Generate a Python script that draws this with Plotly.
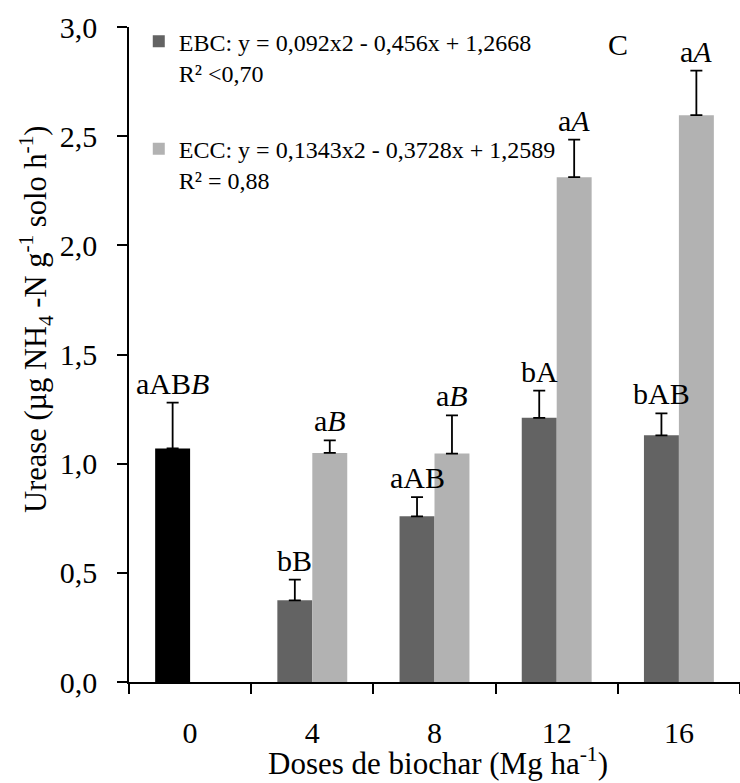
import plotly.graph_objects as go

# ---------------- data ----------------
categories = ["0", "4", "8", "12", "16"]

control_x = ["0"]
control_values = [1.07]
control_err = [0.21]

ebc_x = ["4", "8", "12", "16"]
ebc_values = [0.374, 0.759, 1.21, 1.13]
ebc_err = [0.095, 0.088, 0.125, 0.10]

ecc_x = ["4", "8", "12", "16"]
ecc_values = [1.049, 1.046, 2.312, 2.596]
ecc_err = [0.058, 0.175, 0.172, 0.204]

control_labels = ["aAB<i>B</i>"]
ebc_labels = ["bB", "aAB", "bA", "bAB"]
ecc_labels = ["a<i>B</i>", "a<i>B</i>", "a<i>A</i>", "a<i>A</i>"]

ebc_name = "EBC: y = 0,092x2 - 0,456x + 1,2668<br>R² <0,70"
ecc_name = "ECC: y = 0,1343x2 - 0,3728x + 1,2589<br>R² = 0,88"

x_title = "Doses de biochar (Mg ha<sup>-1</sup>)"
y_title = "Urease (µg NH<sub>4</sub> -N g<sup>-1</sup> solo h<sup>-1</sup>)"

# ---------------- style ----------------
FONT = "Liberation Serif, Times New Roman, serif"
BAR_W = 0.286
C_CTRL = "#000000"
C_EBC = "#636363"
C_ECC = "#b2b2b2"


def err(arr):
    return dict(type="data", array=arr, arrayminus=[0] * len(arr), symmetric=False,
                color="black", thickness=1.8, width=6)


fig = go.Figure()
fig.add_bar(x=control_x, y=control_values, width=BAR_W, offset=-BAR_W,
            marker=dict(color=C_CTRL, line=dict(width=0)), error_y=err(control_err),
            showlegend=False, name="Controle")
fig.add_bar(x=ebc_x, y=ebc_values, width=BAR_W, offset=-BAR_W,
            marker=dict(color=C_EBC, line=dict(width=0)), error_y=err(ebc_err),
            name=ebc_name, legendgroup="ebc")
fig.add_bar(x=ecc_x, y=ecc_values, width=BAR_W, offset=0,
            marker=dict(color=C_ECC, line=dict(width=0)), error_y=err(ecc_err),
            name=ecc_name, legendgroup="ecc")


# letter annotations above the error bars (x given as category index)
def add_labels(xs, vals, errs, labels, shift):
    for xv, v, e, lab in zip(xs, vals, errs, labels):
        fig.add_annotation(x=categories.index(xv), y=v + e, text=lab, showarrow=False,
                           xref="x", yref="y", xshift=shift, yshift=1, yanchor="bottom",
                           font=dict(family=FONT, size=30, color="black"))


add_labels(control_x, control_values, control_err, control_labels, -17.5)
add_labels(ebc_x, ebc_values, ebc_err, ebc_labels, -17.5)
add_labels(ecc_x, ecc_values, ecc_err, ecc_labels, 17.5)

fig.add_annotation(x=0.80, y=0.973, xref="paper", yref="paper", text="C", showarrow=False,
                   xanchor="center", yanchor="middle",
                   font=dict(family=FONT, size=30, color="black"))

# axis titles
fig.add_annotation(x=-0.152, y=0.553, xref="paper", yref="paper", text=y_title,
                   textangle=-90, showarrow=False, xanchor="center", yanchor="middle",
                   font=dict(family=FONT, size=30.5, color="black"))
fig.add_annotation(x=0.505, y=-0.122, xref="paper", yref="paper", text=x_title,
                   showarrow=False, xanchor="center", yanchor="middle",
                   font=dict(family=FONT, size=31, color="black"))

fig.update_layout(
    width=740, height=783,
    margin=dict(l=129, r=0, t=27, b=101, pad=0, autoexpand=False),
    paper_bgcolor="white", plot_bgcolor="white",
    barmode="overlay",
    separators=",.",
    font=dict(family=FONT, size=30, color="black"),
    legend=dict(x=0.016, y=1.012, xanchor="left", yanchor="top",
                font=dict(family=FONT, size=24, color="black"),
                bgcolor="rgba(0,0,0,0)", tracegroupgap=42, valign="top",
                itemclick=False),
    xaxis=dict(type="category", categoryorder="array", categoryarray=categories,
               range=[-0.5, 4.5], showline=True, linecolor="black", linewidth=1.5,
               ticks="outside", tickson="boundaries", ticklen=10, tickwidth=1.5,
               tickcolor="black", showgrid=False, zeroline=False, automargin=False,
               ticklabelposition="outside", ticklabelstandoff=23,
               tickfont=dict(family=FONT, size=30)),
    yaxis=dict(range=[0, 3], dtick=0.5, tickformat=".1f", showline=True,
               linecolor="black", linewidth=1.5, ticks="outside", ticklen=10,
               tickwidth=1.5, tickcolor="black", showgrid=False, zeroline=False,
               automargin=False, ticklabelstandoff=14,
               tickfont=dict(family=FONT, size=30)),
)

fig.write_html("out.html")
